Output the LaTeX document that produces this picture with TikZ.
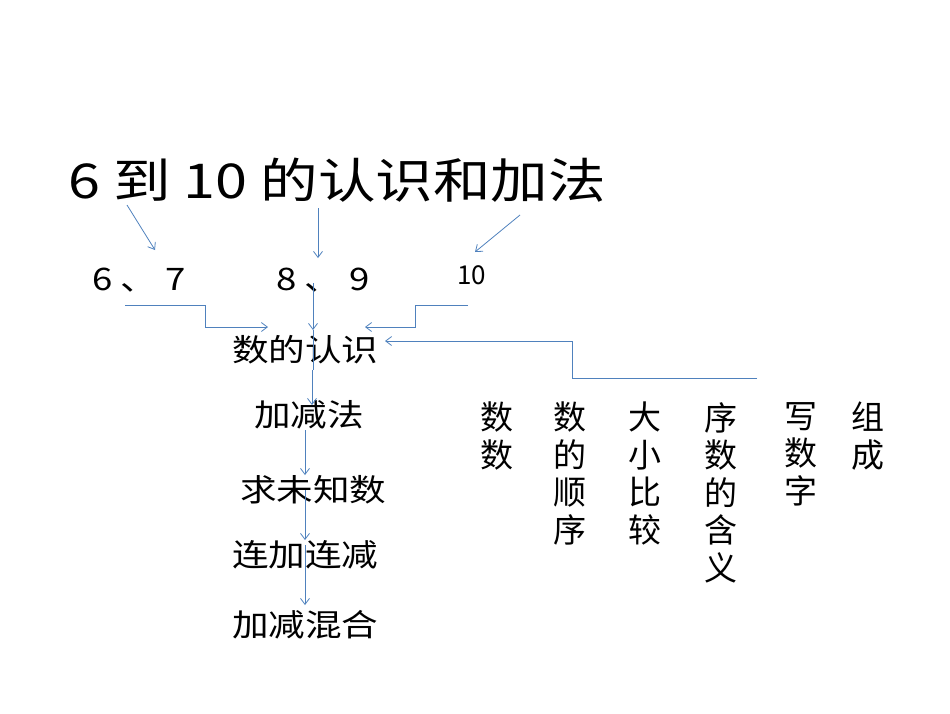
\documentclass[tikz,border=0pt]{standalone}
\usepackage{fontspec}
\setmainfont{Noto Sans CJK SC}
\usetikzlibrary{arrows.meta}
\definecolor{lb}{HTML}{4F81BD}
\begin{document}
\begin{tikzpicture}[x=1pt,y=-1pt,
  ln/.style={draw=lb,line width=0.8pt},
  ar/.style={ln,-{Straight Barb[length=6pt,width=9pt]}},
  txt/.style={inner sep=0pt,anchor=west,xscale=1.18,font=\fontsize{31}{31}\selectfont},
  col/.style={inner sep=0pt,anchor=north,align=center,font=\fontsize{33}{37.5}\selectfont}]
\useasboundingbox (0,0) rectangle (950,713);
\node[inner sep=0pt,anchor=west,xscale=1.2,font=\fontsize{48}{48}\selectfont] (title) at (68,180) {6 到 10 的认识和加法};
\node[txt] (n67) at (92,280) {6 、 7};
\node[txt] (n89) at (276,280) {8 、 9};
\node[inner sep=0pt,anchor=west,font=\fontsize{26}{26}\selectfont] (n10) at (457,275) {10};
\node[txt] (rs) at (232,350) {数的认识};
\node[txt] (jj) at (254,415) {加减法};
\node[txt] (qw) at (240,490) {求未知数};
\node[txt] (lj) at (232,555) {连加连减};
\node[txt] (hh) at (232,625) {加减混合};
\node[col] (c1) at (497,402) {数\\数};
\node[col] (c2) at (570,402) {数\\的\\顺\\序};
\node[col] (c3) at (645,402) {大\\小\\比\\较};
\node[col] (c4) at (721,402) {序\\数\\的\\含\\义};
\node[col] (c5) at (801,402) {写\\数\\字};
\node[col] (c6) at (868,402) {组\\成};
\coordinate (a1) at (127,205); \coordinate (b1) at (155,250);
\coordinate (a2) at (318,208); \coordinate (b2) at (318,258);
\coordinate (a3) at (520,215); \coordinate (b3) at (475,252);
\draw[ar] (a1) -- (b1);
\draw[ar] (a2) -- (b2);
\draw[ar] (a3) -- (b3);
\draw[ar] (125,305) -| (205,327) -- (268,327);
\draw[ar] (468,305) -| (415,327) -- (365,327);
\draw[ar] (313,283) -- (313,330);
\draw[ln] (313,330) -- (313,370);
\draw[ar] (312,370) -- (312,405);
\draw[ar] (305,430) -- (305,475);
\draw[ar] (305,490) -- (305,540);
\draw[ar] (305,545) -- (305,605);
\draw[ar] (757,378) -| (572,341) -- (385,341);
\end{tikzpicture}
\end{document}
